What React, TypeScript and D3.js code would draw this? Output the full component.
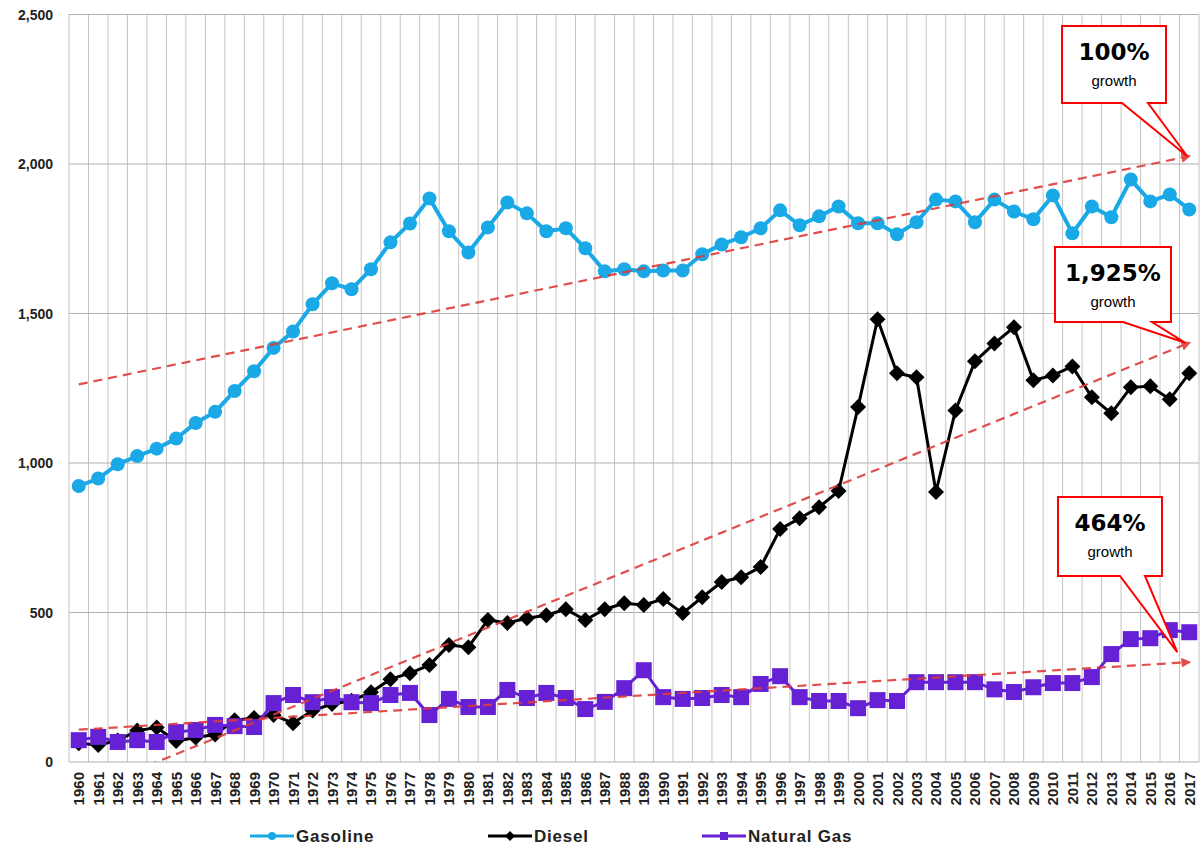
import React from "react";
import * as d3 from "d3";

const years: number[] = d3.range(1960, 2018);
const gasoline: number[] = [
  923, 948, 996, 1023, 1048, 1082, 1134, 1171, 1241, 1307,
  1385, 1440, 1531, 1601, 1581, 1648, 1738, 1801, 1885, 1775,
  1704, 1788, 1871, 1835, 1775, 1785, 1718, 1641, 1648, 1641,
  1644, 1644, 1698, 1731, 1755, 1785, 1845, 1795, 1825, 1858,
  1802, 1802, 1765, 1805, 1881, 1875, 1805, 1881, 1841, 1815,
  1895, 1768, 1858, 1822, 1948, 1875, 1898, 1848,
];
const diesel: number[] = [
  63, 57, 72, 105, 115, 70, 82, 92, 140, 147,
  157, 130, 172, 194, 205, 233, 277, 297, 324, 391,
  384, 475, 465, 481, 491, 511, 475, 511, 531, 525,
  545, 498, 551, 602, 618, 652, 779, 815, 852, 906,
  1187, 1481, 1300, 1287, 903, 1176, 1340, 1400, 1454, 1277,
  1293, 1323, 1220, 1166, 1253, 1257, 1213, 1300,
];
const naturalGas: number[] = [
  73, 84, 67, 73, 67, 100, 107, 124, 120, 117,
  197, 224, 200, 217, 200, 197, 224, 231, 157, 211,
  184, 184, 241, 214, 231, 214, 177, 201, 247, 307,
  217, 211, 214, 224, 217, 261, 287, 217, 204, 204,
  180, 207, 204, 267, 267, 267, 267, 243, 234, 250,
  264, 264, 284, 361, 411, 414, 441, 434,
];
// linear trend lines: [value at 1960, value at 2017]
const gasolineTrend: [number, number] = [1263, 2026];
const dieselTrend: [number, number] = [-106, 1402];
const naturalGasTrend: [number, number] = [108, 334];

const yTicks: number[] = [0, 500, 1000, 1500, 2000, 2500];
const seriesNames: string[] = ["Gasoline", "Diesel", "Natural Gas"];
const callouts = [
  { big: "100%", small: "growth" },
  { big: "1,925%", small: "growth" },
  { big: "464%", small: "growth" },
];

const W = 1200;
const H = 845;
const PL = 69;
const PR = 1199;
const PT = 14.5;
const PB = 762;

const GAS_C = "#1aa9e6";
const DIE_C = "#000000";
const NG_C = "#6621d4";
const RED = "#ff0000";
const TREND_C = "#dd3b3b";

export default function App() {
  const x = d3.scaleBand<number>().domain(years).range([PL, PR]).padding(0);
  const cx = (yr: number) => (x(yr) as number) + x.bandwidth() / 2;
  const y = d3.scaleLinear().domain([0, 2500]).range([PB, PT]);

  const line = d3
    .line<number>()
    .x((_, i) => cx(years[i]))
    .y((d) => y(d));

  const trendPath = (t: [number, number]) =>
    d3.line<number>()
      .x((_, i) => cx(years[i === 0 ? 0 : years.length - 1]))
      .y((d) => y(d))(t) as string;

  const grid = years.map((yr) => x(yr) as number).concat([PR]);

  const diamond = "M0,-8 L8,0 L0,8 L-8,0 Z";
  const smallDiamond = "M0,-5 L5,0 L0,5 L-5,0 Z";

  const calloutBoxes = [
    { x0: 1062, x1: 1166, y0: 26, y1: 103, b0: 1122, b1: 1148, tip: [cx(2017) - 2, y(gasolineTrend[1])] },
    { x0: 1055, x1: 1171, y0: 247, y1: 322, b0: 1123, b1: 1152, tip: [cx(2017) - 4, y(dieselTrend[1])] },
    { x0: 1058, x1: 1162, y0: 497, y1: 576, b0: 1120, b1: 1145, tip: [cx(2017) - 12, y(naturalGasTrend[1]) - 10] },
  ];

  const legend = [
    { name: seriesNames[0], x0: 250, color: GAS_C, kind: "circle" },
    { name: seriesNames[1], x0: 488, color: DIE_C, kind: "diamond" },
    { name: seriesNames[2], x0: 702, color: NG_C, kind: "square" },
  ];

  return (
    <svg
      width={W}
      height={H}
      style={{ position: "absolute", left: 0, top: 0, background: "#fff" }}
      fontFamily="'Liberation Sans', Arial, sans-serif"
    >
      <defs>
        <clipPath id="plotClip">
          <rect x={PL} y={PT} width={PR - PL} height={PB - PT} />
        </clipPath>
        <marker id="arrow" viewBox="0 0 10 10" refX="8" refY="5" markerWidth="4.5" markerHeight="4.5" orient="auto">
          <path d="M0,0 L10,5 L0,10 z" fill={TREND_C} />
        </marker>
      </defs>

      {/* gridlines */}
      {grid.map((gx, i) => (
        <line key={"v" + i} x1={gx} x2={gx} y1={PT} y2={PB} stroke="#c4c4c4" strokeWidth={1} />
      ))}
      {yTicks.map((t) => (
        <line key={"h" + t} x1={PL} x2={PR} y1={y(t)} y2={y(t)} stroke="#b0b0b0" strokeWidth={1} />
      ))}

      {/* y tick labels */}
      {yTicks.map((t) => (
        <text key={"yl" + t} x={53} y={y(t) + 5} textAnchor="end" fontSize={14} fontWeight="bold" fill="#222">
          {d3.format(",")(t)}
        </text>
      ))}

      {/* x tick labels */}
      {years.map((yr) => (
        <text
          key={"xl" + yr}
          transform={`translate(${cx(yr) + 5.5},${772}) rotate(-90)`}
          textAnchor="end"
          fontSize={15}
          fontWeight="bold"
          fill="#222"
        >
          {yr}
        </text>
      ))}

      {/* gasoline */}
      <path d={line(gasoline) as string} fill="none" stroke={GAS_C} strokeWidth={4} />
      {gasoline.map((v, i) => (
        <circle key={"g" + i} cx={cx(years[i])} cy={y(v)} r={7} fill={GAS_C} />
      ))}

      {/* diesel */}
      <path d={line(diesel) as string} fill="none" stroke={DIE_C} strokeWidth={3} />
      {diesel.map((v, i) => (
        <path key={"d" + i} d={diamond} transform={`translate(${cx(years[i])},${y(v)})`} fill={DIE_C} />
      ))}

      {/* natural gas */}
      <path d={line(naturalGas) as string} fill="none" stroke={NG_C} strokeWidth={3} />
      {naturalGas.map((v, i) => (
        <rect key={"n" + i} x={cx(years[i]) - 8} y={y(v) - 8} width={16} height={16} fill={NG_C} />
      ))}

      {/* trend lines */}
      <g clipPath="url(#plotClip)">
        {[gasolineTrend, dieselTrend, naturalGasTrend].map((t, i) => (
          <path
            key={"t" + i}
            d={trendPath(t)}
            fill="none"
            stroke={TREND_C}
            strokeWidth={2.2}
            strokeDasharray="9,6"
            opacity={0.9}
            markerEnd="url(#arrow)"
          />
        ))}
      </g>

      {/* callouts */}
      {calloutBoxes.map((b, i) => {
        const d = `M${b.x0},${b.y0} L${b.x1},${b.y0} L${b.x1},${b.y1} L${b.b1},${b.y1} L${b.tip[0]},${b.tip[1]} L${b.b0},${b.y1} L${b.x0},${b.y1} Z`;
        const mid = (b.x0 + b.x1) / 2;
        return (
          <g key={"c" + i}>
            <path d={d} fill="#fff" stroke={RED} strokeWidth={2} />
            <text x={mid} y={b.y0 + 34} textAnchor="middle" fontSize={23} fontWeight="bold" fill="#000"
              fontFamily="'DejaVu Sans', sans-serif">
              {callouts[i].big}
            </text>
            <text x={mid} y={b.y0 + 60} textAnchor="middle" fontSize={15} fill="#000">
              {callouts[i].small}
            </text>
          </g>
        );
      })}

      {/* legend */}
      {legend.map((l) => (
        <g key={l.name}>
          <line x1={l.x0} x2={l.x0 + 44} y1={836} y2={836} stroke={l.color} strokeWidth={3} />
          {l.kind === "circle" && <circle cx={l.x0 + 22} cy={836} r={4} fill={l.color} />}
          {l.kind === "diamond" && (
            <path d={smallDiamond} transform={`translate(${l.x0 + 22},836)`} fill={l.color} />
          )}
          {l.kind === "square" && <rect x={l.x0 + 18} y={832} width={8} height={8} fill={l.color} />}
          <text x={l.x0 + 46} y={842} fontSize={17} fontWeight="bold" fill="#222" letterSpacing={0.8}>
            {l.name}
          </text>
        </g>
      ))}
    </svg>
  );
}
